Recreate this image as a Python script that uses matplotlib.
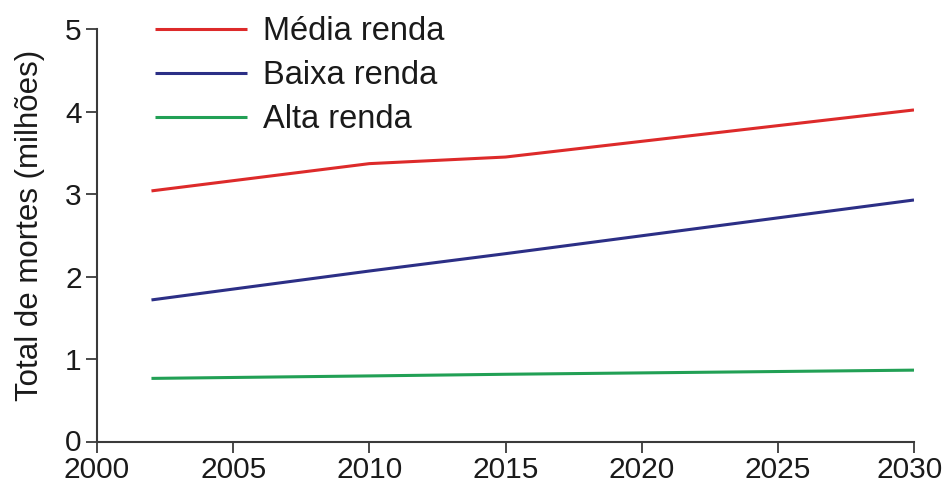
import matplotlib
matplotlib.use("Agg")
import matplotlib.pyplot as plt
from matplotlib.transforms import ScaledTranslation

plt.rcParams['font.family'] = ['Liberation Sans', 'DejaVu Sans']

# Data
years = [2002, 2010, 2015, 2030]
media_renda = [3.04, 3.37, 3.45, 4.02]
baixa_renda = [1.72, 2.07, 2.28, 2.93]
alta_renda = [0.77, 0.80, 0.82, 0.87]
series_labels = ["Média renda", "Baixa renda", "Alta renda"]
x_ticks = [2000, 2005, 2010, 2015, 2020, 2025, 2030]
y_ticks = [0, 1, 2, 3, 4, 5]
y_label = "Total de mortes (milhões)"

colors = ["#dd2a2a", "#2c2f86", "#22a055"]

fig = plt.figure(figsize=(9.44, 4.9), dpi=100)
ax = fig.add_axes([97/944, 1 - 442/490, (914 - 97)/944, (442 - 29)/490])

for vals, lab, c in zip([media_renda, baixa_renda, alta_renda], series_labels, colors):
    ax.plot(years, vals, color=c, lw=2.2, label=lab, solid_capstyle='butt')

ax.set_xlim(2000, 2030)
ax.set_ylim(0, 5)
ax.set_xticks(x_ticks)
ax.set_yticks(y_ticks)
ax.set_xticklabels([str(t) for t in x_ticks])
ax.set_yticklabels([str(t) for t in y_ticks])

for s in ['top', 'right']:
    ax.spines[s].set_visible(False)
for s in ['left', 'bottom']:
    ax.spines[s].set_color('#3a3a3a')
    ax.spines[s].set_linewidth(1.5)

ax.tick_params(axis='both', direction='out', length=8, width=1.3, color='#3a3a3a',
               labelsize=21.5, labelcolor='#1a1a1a')
ax.tick_params(axis='y', pad=3)
ax.tick_params(axis='x', pad=2)

# keep the last x label inside the canvas
last = ax.get_xticklabels()[-1]
last.set_transform(last.get_transform() + ScaledTranslation(-4/100, 0, fig.dpi_scale_trans))
# lift the y "0" label slightly so it does not touch the "2000" label
zero = ax.get_yticklabels()[0]
zero.set_transform(zero.get_transform() + ScaledTranslation(0, 2/100, fig.dpi_scale_trans))

ax.set_ylabel(y_label, fontsize=22.5, color='#1a1a1a')
ax.yaxis.set_label_coords(-0.064, 0.525)

leg = ax.legend(loc='upper left', bbox_to_anchor=(155/944, 1 - 16/490),
                bbox_transform=fig.transFigure, frameon=False, fontsize=23.5,
                handlelength=2.82, handletextpad=0.49, labelspacing=0.4,
                borderpad=0, borderaxespad=0)
for t in leg.get_texts():
    t.set_color('#1a1a1a')

fig.savefig("out.png", dpi=100, facecolor='white')
